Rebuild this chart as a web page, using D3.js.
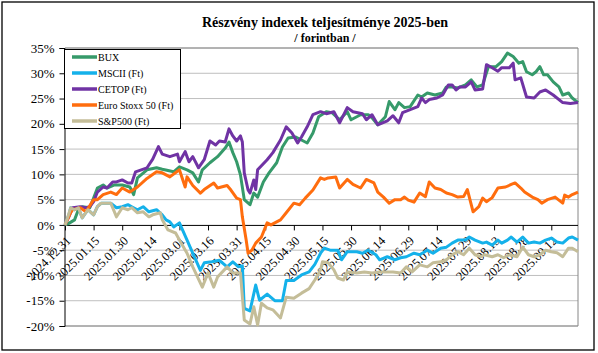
<!DOCTYPE html>
<html><head><meta charset="utf-8">
<script src="https://cdn.jsdelivr.net/npm/d3@7"></script>
<style>body{margin:0;background:#fff}svg{display:block}text{font-family:"Liberation Serif","Times New Roman",serif;fill:#000}</style>
</head><body>
<script>
const titleLines = ["Részvény indexek teljesítménye 2025-ben", "/ forintban /"];
const seriesNames = ["BUX", "MSCII (Ft)", "CETOP (Ft)", "Euro Stoxx 50 (Ft)", "S&P500 (Ft)"];
const seriesColors = ["#369a6a", "#14b1ea", "#7033a4", "#ff6d0e", "#c4bd98"];
const yTicks = [-20, -15, -10, -5, 0, 5, 10, 15, 20, 25, 30, 35];
const xTickLabels = ["2024.12.31","2025.01.15","2025.01.30","2025.02.14","2025.03.01","2025.03.16","2025.03.31","2025.04.15","2025.04.30","2025.05.15","2025.05.30","2025.06.14","2025.06.29","2025.07.14","2025.07.29","2025.08.13","2025.08.28","2025.09.12"];
const xDomain = ["2024.12.31", "2025.09.26"];

const buxDates = ["2024.12.31","2025.01.02","2025.01.05","2025.01.07","2025.01.09","2025.01.13","2025.01.15","2025.01.17","2025.01.20","2025.01.22",
"2025.01.26","2025.01.30","2025.02.03","2025.02.05","2025.02.07","2025.02.12","2025.02.17","2025.02.20","2025.02.26","2025.03.01",
"2025.03.05","2025.03.08","2025.03.11","2025.03.13","2025.03.17","2025.03.21","2025.03.25","2025.03.27","2025.03.29","2025.03.31",
"2025.04.02","2025.04.04","2025.04.07","2025.04.09","2025.04.11","2025.04.14","2025.04.17","2025.04.21","2025.04.24","2025.04.27",
"2025.05.01","2025.05.04","2025.05.07","2025.05.10","2025.05.13","2025.05.17","2025.05.20","2025.05.24","2025.05.28","2025.05.30",
"2025.06.04","2025.06.08","2025.06.10","2025.06.13","2025.06.17","2025.06.19","2025.06.22","2025.06.24","2025.06.27","2025.06.30",
"2025.07.04","2025.07.06","2025.07.09","2025.07.13","2025.07.17","2025.07.19","2025.07.22","2025.07.25","2025.07.29","2025.08.01",
"2025.08.04","2025.08.07","2025.08.10","2025.08.14","2025.08.17","2025.08.20","2025.08.23","2025.08.26","2025.08.28","2025.08.30",
"2025.09.02","2025.09.04","2025.09.06","2025.09.08","2025.09.10","2025.09.13","2025.09.16","2025.09.18","2025.09.21","2025.09.23",
"2025.09.26"];
const buxValues = [0,0.3,1.0,3.0,3.6,3.4,5.3,7.3,7.9,7.3, 7.9,7.9,7.5,6.0,9.3,10.9,11.3,11.0,10.5,11.5,
10.9,10.3,8.5,10.9,12.3,13.5,15.2,16.4,14.3,12.5, 9.9,5.0,4.0,6.3,5.5,8.5,10.3,12.3,15.4,17.2,
17.4,16.8,16.2,18.2,21.4,22.4,22.2,20.8,22.4,20.8, 21.8,21.8,21.2,19.8,21.4,24.4,22.8,24.2,23.2,23.4,
25.7,25.3,26.1,25.7,26.1,27.3,27.3,27.1,27.7,28.7, 27.3,27.7,31.3,31.3,32.3,34.0,33.3,32.0,32.3,30.3,
29.7,30.3,31.3,29.7,29.7,28.3,27.3,25.7,26.1,25.1, 24.2];

const msciDates = ["2024.12.31","2025.01.02","2025.01.03","2025.01.05","2025.01.07","2025.01.09","2025.01.12","2025.01.15","2025.01.17","2025.01.19",
"2025.01.24","2025.01.27","2025.01.30","2025.02.02","2025.02.04","2025.02.07","2025.02.10","2025.02.13","2025.02.17","2025.02.20",
"2025.02.22","2025.02.24","2025.02.26","2025.03.01","2025.03.05","2025.03.08","2025.03.12","2025.03.14","2025.03.18","2025.03.22",
"2025.03.26","2025.03.29","2025.04.01","2025.04.03","2025.04.04","2025.04.07","2025.04.10","2025.04.12","2025.04.16","2025.04.20",
"2025.04.24","2025.04.26","2025.04.30","2025.05.04","2025.05.08","2025.05.11","2025.05.14","2025.05.16","2025.05.19","2025.05.23",
"2025.05.25","2025.05.28","2025.06.02","2025.06.05","2025.06.08","2025.06.12","2025.06.14","2025.06.18","2025.06.22","2025.06.25",
"2025.06.28","2025.07.02","2025.07.05","2025.07.09","2025.07.12","2025.07.16","2025.07.19","2025.07.22","2025.07.25","2025.07.29",
"2025.07.31","2025.08.03","2025.08.07","2025.08.09","2025.08.12","2025.08.15","2025.08.17","2025.08.20","2025.08.22","2025.08.25",
"2025.08.28","2025.08.31","2025.09.03","2025.09.06","2025.09.09","2025.09.12","2025.09.15","2025.09.18","2025.09.21","2025.09.23",
"2025.09.26"];
const msciValues = [0,2.0,3.4,3.0,3.4,1.4,3.0,2.0,3.6,4.3, 4.3,3.4,3.6,4.0,3.6,3.0,3.6,2.6,3.0,2.0,
1.0,0.6,-0.4,0.4,-3.0,-5.6,-9.0,-7.5,-7.3,-7.0, -8.3,-7.3,-8.3,-8.1,-16.5,-17.0,-11.9,-14.9,-13.7,-15.0,
-15.0,-11.0,-11.0,-9.9,-9.3,-7.8,-5.6,-4.6,-5.0,-5.0, -6.9,-5.3,-5.3,-5.6,-5.0,-5.9,-6.9,-6.3,-6.9,-6.5,
-6.3,-5.6,-5.9,-5.0,-5.6,-4.6,-4.4,-3.6,-3.0,-3.0, -2.4,-3.0,-3.6,-3.4,-4.0,-3.0,-3.6,-3.0,-2.4,-3.4,
-2.4,-3.6,-3.4,-3.6,-3.0,-2.6,-3.4,-3.6,-2.6,-2.4, -3.0];

const cetopDates = ["2024.12.31","2025.01.02","2025.01.04","2025.01.08","2025.01.11","2025.01.13","2025.01.15","2025.01.17","2025.01.20","2025.01.22",
"2025.01.25","2025.01.27","2025.01.30","2025.02.02","2025.02.04","2025.02.06","2025.02.12","2025.02.15","2025.02.18","2025.02.20",
"2025.02.24","2025.02.28","2025.03.01","2025.03.04","2025.03.06","2025.03.08","2025.03.11","2025.03.14","2025.03.17","2025.03.20",
"2025.03.22","2025.03.25","2025.03.27","2025.03.29","2025.03.31","2025.04.02","2025.04.03","2025.04.04","2025.04.06","2025.04.07",
"2025.04.09","2025.04.10","2025.04.11","2025.04.16","2025.04.19","2025.04.23","2025.04.26","2025.04.29","2025.05.02","2025.05.04",
"2025.05.07","2025.05.10","2025.05.14","2025.05.17","2025.05.21","2025.05.24","2025.05.28","2025.05.31","2025.06.05","2025.06.07",
"2025.06.10","2025.06.13","2025.06.18","2025.06.21","2025.06.24","2025.06.26","2025.06.30","2025.07.04","2025.07.06","2025.07.08",
"2025.07.10","2025.07.14","2025.07.17","2025.07.20","2025.07.22","2025.07.24","2025.07.26","2025.07.29","2025.08.01","2025.08.03",
"2025.08.07","2025.08.09","2025.08.12","2025.08.15","2025.08.17","2025.08.21","2025.08.23","2025.08.24","2025.08.27","2025.08.30",
"2025.09.03","2025.09.06","2025.09.09","2025.09.13","2025.09.18","2025.09.22","2025.09.26"];
const cetopValues = [0,1.6,3.4,3.6,3.4,3.6,4.6,6.5,7.5,7.3, 8.5,8.5,8.9,8.3,8.3,10.5,11.3,13.0,15.5,14.0,
13.5,14.0,12.5,14.5,12.5,13.5,11.3,12.9,16.6,15.8, 16.6,16.4,19.0,17.6,16.6,17.6,16.4,10.3,6.9,6.3,
8.9,7.0,10.9,12.9,14.3,16.8,19.4,18.2,16.2,17.4, 19.4,21.8,22.4,22.0,22.4,20.2,23.2,22.4,22.0,20.8,
21.8,19.8,20.6,21.6,20.2,22.2,22.8,23.4,25.1,24.2, 24.8,25.1,25.7,27.7,27.7,26.7,27.3,27.3,28.3,26.7,
26.9,31.7,31.1,30.4,31.1,31.1,32.0,28.7,29.1,25.3, 25.1,26.3,26.7,25.7,24.2,24.0,24.2];

const stoxxDates = ["2024.12.31","2025.01.03","2025.01.04","2025.01.08","2025.01.11","2025.01.15","2025.01.17","2025.01.20","2025.01.24","2025.01.27",
"2025.01.30","2025.02.03","2025.02.07","2025.02.12","2025.02.17","2025.02.20","2025.02.24","2025.03.01","2025.03.04","2025.03.05",
"2025.03.08","2025.03.12","2025.03.14","2025.03.19","2025.03.21","2025.03.26","2025.03.28","2025.03.31","2025.04.02","2025.04.03",
"2025.04.05","2025.04.06","2025.04.08","2025.04.10","2025.04.13","2025.04.16","2025.04.18","2025.04.23","2025.04.26","2025.04.30",
"2025.05.03","2025.05.06","2025.05.10","2025.05.14","2025.05.16","2025.05.18","2025.05.22","2025.05.24","2025.05.28","2025.05.31",
"2025.06.04","2025.06.07","2025.06.11","2025.06.13","2025.06.16","2025.06.19","2025.06.22","2025.06.25","2025.06.27","2025.06.29",
"2025.07.02","2025.07.05","2025.07.08","2025.07.10","2025.07.13","2025.07.16","2025.07.19","2025.07.22","2025.07.25","2025.07.28",
"2025.07.30","2025.08.02","2025.08.05","2025.08.07","2025.08.09","2025.08.12","2025.08.15","2025.08.19","2025.08.22","2025.08.24",
"2025.08.27","2025.08.29","2025.09.02","2025.09.05","2025.09.07","2025.09.10","2025.09.14","2025.09.18","2025.09.19","2025.09.21",
"2025.09.23","2025.09.26"];
const stoxxValues = [0,2.5,3.0,3.4,2.6,5.0,5.0,6.0,6.5,6.0, 7.3,6.5,7.5,9.2,10.5,10.3,9.5,10.9,7.5,9.5,
7.8,6.3,7.0,8.3,7.3,7.8,6.9,5.3,5.0,1.6, -3.0,-5.6,-5.0,-3.6,-2.4,0.4,0.0,1.0,2.4,4.3,
4.0,5.3,6.9,9.3,9.0,9.3,9.5,7.3,9.0,8.0, 7.3,9.0,8.3,6.5,5.5,4.3,5.0,5.0,5.5,4.9,
4.5,6.3,5.6,8.5,7.3,7.0,6.3,6.0,5.5,5.6, 7.0,2.6,3.6,5.3,4.6,5.4,7.3,7.5,8.0,8.3,
7.3,6.5,5.5,5.0,4.3,5.0,5.5,4.3,5.9,5.5, 6.0,6.5];

const spDates = ["2024.12.31","2025.01.01","2025.01.03","2025.01.05","2025.01.07","2025.01.09","2025.01.12","2025.01.15","2025.01.17","2025.01.19",
"2025.01.24","2025.01.27","2025.01.30","2025.02.02","2025.02.04","2025.02.07","2025.02.10","2025.02.13","2025.02.15","2025.02.19",
"2025.02.20","2025.02.23","2025.02.27","2025.03.01","2025.03.05","2025.03.08","2025.03.12","2025.03.13","2025.03.16","2025.03.19",
"2025.03.21","2025.03.26","2025.03.29","2025.04.02","2025.04.04","2025.04.07","2025.04.09","2025.04.11","2025.04.13","2025.04.16",
"2025.04.19","2025.04.23","2025.04.26","2025.04.30","2025.05.04","2025.05.08","2025.05.11","2025.05.14","2025.05.15","2025.05.18",
"2025.05.21","2025.05.23","2025.05.26","2025.05.28","2025.06.02","2025.06.06","2025.06.10","2025.06.14","2025.06.18","2025.06.21",
"2025.06.25","2025.06.28","2025.07.01","2025.07.05","2025.07.09","2025.07.12","2025.07.16","2025.07.19","2025.07.22","2025.07.25",
"2025.07.28","2025.07.31","2025.08.03","2025.08.06","2025.08.08","2025.08.12","2025.08.15","2025.08.18","2025.08.21","2025.08.25",
"2025.08.28","2025.08.31","2025.09.03","2025.09.06","2025.09.09","2025.09.12","2025.09.15","2025.09.18","2025.09.21","2025.09.23",
"2025.09.26"];
const spValues = [0,1.0,3.4,3.0,3.4,1.4,3.0,2.0,3.6,4.3, 4.3,1.6,3.4,3.0,3.4,2.4,2.6,1.6,2.0,2.4,
1.0,-1.0,-1.6,-3.0,-5.6,-8.3,-11.5,-12.3,-9.5,-12.3, -10.3,-8.3,-9.5,-9.5,-18.8,-19.6,-16.2,-19.8,-15.5,-16.4,
-16.8,-18.4,-14.3,-14.5,-13.5,-12.6,-10.9,-8.9,-7.3,-7.5, -8.9,-10.5,-10.9,-9.3,-9.5,-9.3,-9.5,-9.3,-9.3,-9.3,
-9.5,-8.3,-9.3,-7.9,-8.3,-7.5,-7.3,-6.9,-5.9,-5.3, -5.9,-4.6,-5.9,-6.3,-5.9,-6.3,-5.9,-6.5,-5.9,-6.3,
-4.4,-5.9,-6.3,-5.9,-5.0,-5.3,-5.5,-6.3,-4.6,-4.6, -5.3];

const seriesDates = [buxDates, msciDates, cetopDates, stoxxDates, spDates];
const seriesValues = [buxValues, msciValues, cetopValues, stoxxValues, spValues];

const W = 598, H = 353;
const FONT = '"Liberation Serif","Times New Roman",serif';
const parse = d3.timeParse("%Y.%m.%d");
const svg = d3.select("body").append("svg").attr("width", W).attr("height", H);
svg.append("rect").attr("width", W).attr("height", H).attr("fill", "#fff");
svg.append("rect").attr("x", 2).attr("y", 2).attr("width", 592).attr("height", 348)
  .attr("fill", "none").attr("stroke", "#000").attr("stroke-width", 1.3);

const x = d3.scaleTime().domain(xDomain.map(parse)).range([65, 578]);
const y = d3.scaleLinear().domain([-20, 35]).range([326, 48]);

// gridlines
svg.append("g").selectAll("line").data(yTicks.filter(v => v !== 0)).join("line")
  .attr("x1", 65).attr("x2", 578).attr("y1", d => y(d)).attr("y2", d => y(d))
  .attr("stroke", "#bfbfbf").attr("stroke-width", 1);
// plot border (top/right/bottom)
svg.append("path").attr("d", `M65,${y(35)}H578V${y(-20)}H65`).attr("fill", "none")
  .attr("stroke", "#868686").attr("stroke-width", 1);

// y axis
const yAxis = d3.axisLeft(y).tickValues(yTicks).tickFormat(d => d + "%").tickSize(5).tickPadding(5);
const gy = svg.append("g").attr("transform", "translate(64.5,0)").call(yAxis);
gy.attr("font-family", FONT);
gy.select(".domain").attr("stroke", "#000");
gy.selectAll("line").attr("stroke", "#000");
gy.selectAll("text").attr("font-size", 13).style("font-family", FONT);

// x axis at 0
const xAxis = d3.axisBottom(x).tickValues(xTickLabels.map(parse)).tickFormat(d3.timeFormat("%Y.%m.%d")).tickSize(5);
const gx = svg.append("g").attr("transform", `translate(0,${y(0) + 0.5})`).call(xAxis);
gx.attr("font-family", FONT);
gx.select(".domain").attr("stroke", "#000").attr("d", "M65,0H578");
gx.selectAll("line").attr("stroke", "#000");
gx.selectAll("text").attr("font-size", 12.5).style("font-family", FONT)
  .attr("text-anchor", "end").attr("dy", "0.35em")
  .attr("transform", "translate(3,13) rotate(-45)").attr("x", 0).attr("y", 0);

// lines
const line = d3.line().x(d => x(d.date)).y(d => y(d.value));
seriesNames.forEach((name, i) => {
  const data = seriesDates[i].map((d, j) => ({ date: parse(d), value: seriesValues[i][j] }));
  svg.append("path").datum(data).attr("d", line).attr("fill", "none")
    .attr("stroke", seriesColors[i]).attr("stroke-width", 3).attr("stroke-linejoin", "round");
});

// legend
const lg = svg.append("g");
lg.append("rect").attr("x", 64.5).attr("y", 49.5).attr("width", 116).attr("height", 79)
  .attr("fill", "#fff").attr("stroke", "#000").attr("stroke-width", 1);
seriesNames.forEach((name, i) => {
  const yy = 57 + i * 16;
  lg.append("line").attr("x1", 72).attr("x2", 97).attr("y1", yy).attr("y2", yy)
    .attr("stroke", seriesColors[i]).attr("stroke-width", 3.5);
  lg.append("text").attr("x", 98).attr("y", yy + 3.5).attr("font-size", 10).style("font-family", FONT).text(name);
});

// title
svg.append("text").attr("x", 325).attr("y", 27).attr("text-anchor", "middle").style("font-family", FONT)
  .attr("font-size", 14).attr("font-weight", "bold").text(titleLines[0]);
svg.append("text").attr("x", 325).attr("y", 42).attr("text-anchor", "middle").style("font-family", FONT)
  .attr("font-size", 12).attr("font-weight", "bold").text(titleLines[1]);
</script>
</body></html>
